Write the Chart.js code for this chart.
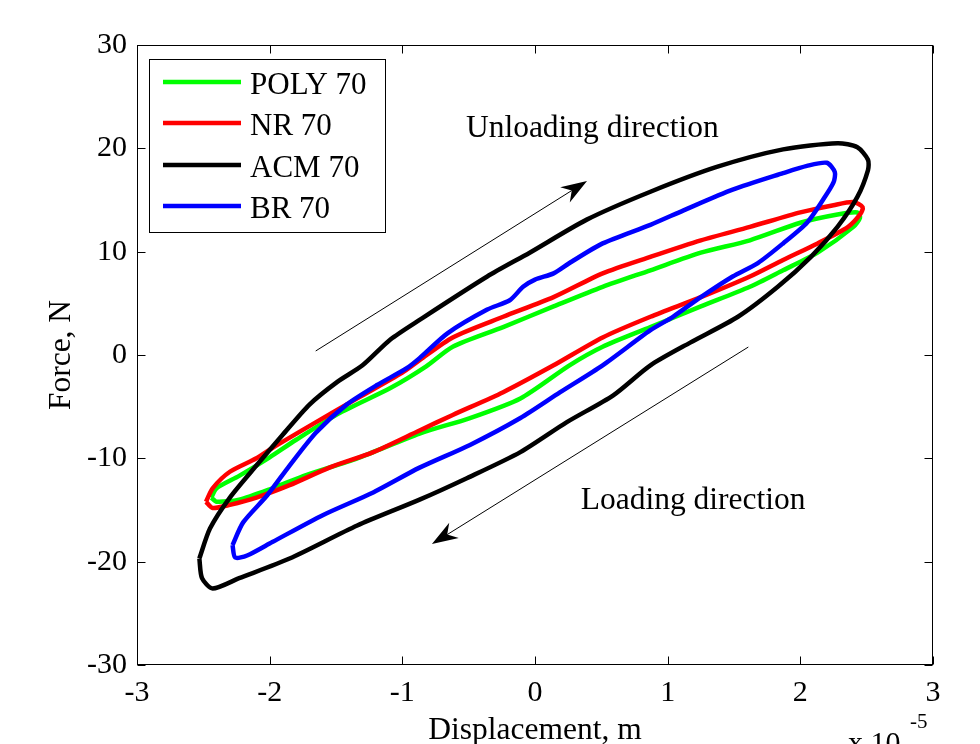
<!DOCTYPE html>
<html>
<head>
<meta charset="utf-8">
<script src="https://cdn.jsdelivr.net/npm/chart.js@4.4.1/dist/chart.umd.min.js"></script>
<style>
  html, body { margin: 0; padding: 0; background: #fff; }
  canvas { display: block; }
</style>
</head>
<body>
<canvas id="chart" width="980" height="744"></canvas>
<script>
// Hysteresis loops: displacement in units of 1e-5 m, force in N
const seriesNames  = ['POLY 70', 'NR 70', 'ACM 70', 'BR 70'];
const seriesColors = ['#00ff00', '#ff0000', '#000000', '#0000ff'];

const xTicks = [-3, -2, -1, 0, 1, 2, 3];
const yTicks = [-30, -20, -10, 0, 10, 20, 30];

const polyX = [-2.44, -2.40, -2.23, -2.00, -1.80, -1.47, -1.09, -0.82, -0.62, -0.24, 0.14, 0.51, 0.87, 1.25, 1.62, 2.00, 2.28, 2.43, 2.45, 2.40, 2.13, 1.87, 1.62, 1.25, 0.87, 0.51, 0.26, -0.11, -0.49, -0.87, -1.34, -1.72, -1.98, -2.23, -2.40, -2.44];
const polyY = [-13.8, -12.9, -11.7, -9.9, -8.2, -5.6, -3.2, -1.1, 0.8, 2.7, 4.7, 6.6, 8.2, 9.9, 11.1, 12.8, 13.6, 13.8, 13.3, 12.4, 9.9, 8.2, 6.6, 4.7, 2.7, 0.8, -1.0, -4.2, -6.1, -7.6, -10.0, -11.6, -12.9, -14.0, -14.2, -13.8];

const nrX = [-2.48, -2.43, -2.30, -2.10, -1.98, -1.65, -1.34, -1.00, -0.87, -0.62, -0.24, 0.14, 0.51, 0.87, 1.25, 1.62, 2.00, 2.25, 2.40, 2.47, 2.45, 2.36, 2.13, 1.87, 1.62, 1.25, 0.87, 0.51, 0.14, -0.24, -0.62, -0.87, -1.22, -1.55, -1.85, -2.10, -2.30, -2.43, -2.48];
const nrY = [-14.2, -12.9, -11.3, -10.0, -9.0, -6.5, -4.2, -1.7, -0.5, 1.7, 3.7, 5.6, 7.9, 9.5, 11.1, 12.4, 13.8, 14.5, 14.8, 14.3, 13.6, 12.4, 10.8, 9.2, 7.6, 5.6, 3.7, 1.7, -1.0, -3.6, -5.8, -7.3, -9.4, -10.9, -12.6, -13.8, -14.5, -14.8, -14.2];

const acmX = [-2.53, -2.45, -2.30, -2.10, -1.90, -1.70, -1.49, -1.30, -1.09, -0.87, -0.36, -0.04, 0.39, 0.87, 1.37, 1.87, 2.28, 2.43, 2.51, 2.51, 2.43, 2.28, 2.08, 1.83, 1.53, 1.17, 0.87, 0.59, 0.24, -0.11, -0.51, -0.87, -1.34, -1.85, -2.23, -2.43, -2.51, -2.53];
const acmY = [-19.7, -16.8, -13.8, -10.7, -7.7, -4.8, -2.6, -1.0, 1.5, 3.4, 7.6, 9.9, 13.1, 15.8, 18.2, 19.9, 20.5, 20.1, 18.9, 17.9, 15.3, 12.4, 9.5, 6.6, 3.7, 1.2, -1.0, -3.9, -6.5, -9.4, -11.9, -14.0, -16.5, -19.7, -21.6, -22.6, -21.6, -19.7];

const brX = [-2.28, -2.20, -2.02, -1.85, -1.65, -1.42, -1.19, -0.97, -0.87, -0.66, -0.36, -0.19, -0.09, 0.00, 0.14, 0.26, 0.51, 0.87, 1.12, 1.49, 1.87, 2.05, 2.20, 2.26, 2.25, 2.17, 2.05, 1.87, 1.68, 1.49, 1.25, 1.04, 0.87, 0.51, 0.19, -0.11, -0.49, -0.87, -1.22, -1.60, -1.98, -2.17, -2.26, -2.28];
const brY = [-18.4, -16.2, -13.6, -10.7, -7.5, -4.8, -2.9, -1.3, -0.3, 2.1, 4.4, 5.3, 6.6, 7.3, 7.9, 8.9, 10.8, 12.6, 14.0, 16.0, 17.6, 18.3, 18.6, 17.7, 16.7, 15.0, 12.8, 10.8, 8.9, 7.6, 5.6, 3.7, 2.4, -1.0, -3.6, -6.1, -8.7, -10.9, -13.3, -15.5, -18.1, -19.4, -19.6, -18.4];

const seriesX = [polyX, nrX, acmX, brX];
const seriesY = [polyY, nrY, acmY, brY];

const FONT = 'Liberation Serif, "Times New Roman", serif';

function toPoints(xs, ys) {
  return xs.map((x, i) => ({ x: x, y: ys[i] }));
}

// Later entries are drawn on top (BR over ACM over NR over POLY)
const datasets = seriesNames.map((name, i) => ({
  label: name,
  data: toPoints(seriesX[i], seriesY[i]),
  borderColor: seriesColors[i],
  backgroundColor: seriesColors[i],
  borderWidth: 4.5,
  pointRadius: 0,
  showLine: true,
  fill: false,
  tension: 0.25,
  order: seriesNames.length - i
}));

function drawArrow(ctx, x0, y0, x1, y1) {
  const dx = x1 - x0, dy = y1 - y0;
  const len = Math.hypot(dx, dy);
  const ux = dx / len, uy = dy / len;
  const nx = -uy, ny = ux;
  const L = 26, W = 9, notch = 18;
  ctx.save();
  ctx.strokeStyle = '#000';
  ctx.lineWidth = 1;
  ctx.beginPath();
  ctx.moveTo(x0, y0);
  ctx.lineTo(x1 - ux * notch, y1 - uy * notch);
  ctx.stroke();
  ctx.fillStyle = '#000';
  ctx.beginPath();
  ctx.moveTo(x1, y1);
  ctx.lineTo(x1 - ux * L + nx * W, y1 - uy * L + ny * W);
  ctx.lineTo(x1 - ux * notch, y1 - uy * notch);
  ctx.lineTo(x1 - ux * L - nx * W, y1 - uy * L - ny * W);
  ctx.closePath();
  ctx.fill();
  ctx.restore();
}

const decorations = {
  id: 'decorations',
  afterDraw(chart) {
    const { ctx, chartArea: a, scales } = chart;
    const sx = scales.x, sy = scales.y;
    ctx.save();

    // axes box
    ctx.strokeStyle = '#000';
    ctx.lineWidth = 1;
    const l = Math.round(a.left) + 0.5, r = Math.round(a.right) - 0.5;
    const t = Math.round(a.top) + 0.5, b = Math.round(a.bottom) - 0.5;
    ctx.strokeRect(l, t, r - l, b - t);

    // inward tick marks on all four sides
    const tl = 8;
    ctx.beginPath();
    sx.ticks.forEach(tk => {
      const px = Math.round(sx.getPixelForValue(tk.value)) + 0.5;
      ctx.moveTo(px, b); ctx.lineTo(px, b - tl);
      ctx.moveTo(px, t); ctx.lineTo(px, t + tl);
    });
    sy.ticks.forEach(tk => {
      const py = Math.round(sy.getPixelForValue(tk.value)) + 0.5;
      ctx.moveTo(l, py); ctx.lineTo(l + tl, py);
      ctx.moveTo(r, py); ctx.lineTo(r - tl, py);
    });
    ctx.stroke();

    // direction arrows and their captions
    drawArrow(ctx, sx.getPixelForValue(-1.653), sy.getPixelForValue(0.39),
                   sx.getPixelForValue(0.392), sy.getPixelForValue(16.84));
    drawArrow(ctx, sx.getPixelForValue(1.608), sy.getPixelForValue(0.77),
                   sx.getPixelForValue(-0.777), sy.getPixelForValue(-18.30));
    ctx.fillStyle = '#000';
    ctx.font = '31.5px ' + FONT;
    ctx.textAlign = 'left';
    ctx.textBaseline = 'alphabetic';
    ctx.fillText('Unloading direction', sx.getPixelForValue(-0.521), sy.getPixelForValue(21.1));
    ctx.fillText('Loading direction', sx.getPixelForValue(0.345), sy.getPixelForValue(-14.9));

    // axis exponent
    ctx.font = '30px ' + FONT;
    ctx.fillText('x 10', 848, 752);
    ctx.font = '21px ' + FONT;
    ctx.fillText('-5', 910, 728);

    // legend box
    const bx = 149.5, by = 59.5, bw = 236, bh = 173;
    ctx.fillStyle = '#fff';
    ctx.fillRect(bx, by, bw, bh);
    ctx.strokeStyle = '#000';
    ctx.lineWidth = 1;
    ctx.strokeRect(bx, by, bw, bh);
    const rowY = [82, 123, 165, 206];
    ctx.font = '31px ' + FONT;
    ctx.textBaseline = 'alphabetic';
    chart.data.datasets.forEach((ds, i) => {
      ctx.strokeStyle = ds.borderColor;
      ctx.lineWidth = 4.5;
      ctx.beginPath();
      ctx.moveTo(163, rowY[i]);
      ctx.lineTo(241, rowY[i]);
      ctx.stroke();
      ctx.fillStyle = '#000';
      ctx.fillText(ds.label, 250, rowY[i] + 12);
    });

    ctx.restore();
  }
};

new Chart(document.getElementById('chart'), {
  type: 'scatter',
  data: { datasets: datasets },
  options: {
    responsive: false,
    animation: false,
    devicePixelRatio: 1,
    layout: { padding: { top: 45, right: 47, left: 0, bottom: 0 } },
    plugins: {
      legend: { display: false },
      tooltip: { enabled: false }
    },
    scales: {
      x: {
        type: 'linear',
        min: -3,
        max: 3,
        afterBuildTicks: s => { s.ticks = xTicks.map(v => ({ value: v })); },
        afterFit: s => { s.height = 79; },
        grid: { display: false, drawTicks: false },
        border: { display: false },
        ticks: { padding: 10, color: '#000', font: { family: FONT, size: 30 }, maxRotation: 0, autoSkip: false },
        title: { display: true, text: 'Displacement, m', color: '#000', font: { family: FONT, size: 31.5 }, padding: { top: 0, bottom: -6 } }
      },
      y: {
        type: 'linear',
        min: -30,
        max: 30,
        afterBuildTicks: s => { s.ticks = yTicks.map(v => ({ value: v })); },
        afterFit: s => { s.width = 137; },
        grid: { display: false, drawTicks: false },
        border: { display: false },
        ticks: { padding: 10, color: '#000', font: { family: FONT, size: 30 }, autoSkip: false },
        title: { display: true, text: 'Force, N', color: '#000', font: { family: FONT, size: 31.5 }, padding: { top: 43, bottom: 0 } }
      }
    }
  },
  plugins: [decorations]
});
</script>
</body>
</html>
